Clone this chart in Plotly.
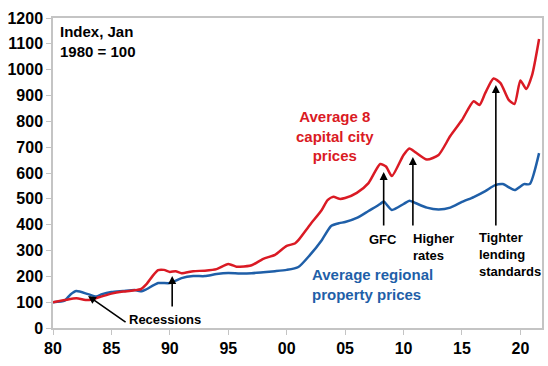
import plotly.graph_objects as go

# Average 8 capital city prices (index, Jan 1980 = 100)
cap_years = [1980, 1981, 1982, 1983, 1984, 1985, 1986, 1987, 1987.5, 1988, 1988.5, 1989, 1989.5,
             1990, 1990.5, 1991, 1992, 1993, 1994, 1995, 1995.7, 1996, 1997, 1998, 1999, 2000,
             2000.7, 2001, 2002, 2003, 2003.5, 2004, 2004.5, 2005, 2006, 2007, 2008, 2008.5,
             2009, 2010, 2010.5, 2011, 2012, 2013, 2014, 2015, 2016, 2016.5, 2017, 2017.7,
             2018.3, 2019, 2019.5, 2020, 2020.5, 2021, 2021.6]
cap_values = [100, 108, 115, 108, 120, 133, 141, 146, 150, 170, 200, 224, 225,
              217, 220, 212, 220, 222, 228, 248, 237, 237, 243, 268, 283, 318,
              327, 340, 400, 457, 495, 508, 500, 503, 523, 561, 635, 625,
              588, 670, 695, 681, 652, 670, 743, 805, 878, 863, 910, 966,
              948, 883, 867, 958, 925, 979, 1119]

# Average regional property prices
reg_years = [1980, 1981, 1981.5, 1982, 1983, 1983.7, 1984.2, 1985, 1986, 1987, 1987.6, 1988,
             1989, 1990, 1991, 1992, 1993, 1994, 1995, 1996, 1997, 1998, 1999, 2000, 2001,
             2002, 2003, 2003.8, 2004.5, 2005, 2006, 2007, 2008, 2008.3, 2009, 2010, 2010.5,
             2011, 2012, 2013, 2014, 2015, 2016, 2017, 2017.8, 2018.5, 2019.5, 2020.3, 2020.8,
             2021.6]
reg_values = [100, 106, 130, 143, 131, 122, 131, 139, 143, 147, 142, 150,
              174, 174, 193, 201, 201, 209, 213, 211, 212, 216, 220, 225, 236,
              283, 340, 395, 406, 410, 426, 453, 480, 490, 457, 480, 493,
              484, 466, 459, 466, 488, 507, 530, 552, 557, 534, 557, 557,
              677]

tick_vals = [1980, 1985, 1990, 1995, 2000, 2005, 2010, 2015, 2020]
tick_text = ["80", "85", "90", "95", "00", "05", "10", "15", "20"]

RED = "#DA1A24"
BLUE = "#1F5FA8"
GREY = "#C4C4C4"
FONT = "Arial, Liberation Sans, sans-serif"

fig = go.Figure()
fig.add_trace(go.Scatter(x=reg_years, y=reg_values, mode="lines",
                         line=dict(color=BLUE, width=2.5, shape="spline", smoothing=0.6),
                         showlegend=False, hoverinfo="skip"))
fig.add_trace(go.Scatter(x=cap_years, y=cap_values, mode="lines",
                         line=dict(color=RED, width=2.5, shape="spline", smoothing=0.6),
                         showlegend=False, hoverinfo="skip"))

annotations = []
# text labels
annotations.append(dict(xref="paper", yref="paper", x=0.01, y=0.99, xanchor="left", yanchor="top",
                        text="<b>Index, Jan<br>1980 = 100</b>", showarrow=False, align="left",
                        font=dict(size=15, color="black", family=FONT)))
annotations.append(dict(x=2004.14, y=745, text="<b>Average 8<br>capital city<br>prices</b>",
                        showarrow=False, align="center", xanchor="center", yanchor="middle",
                        font=dict(size=15, color=RED, family=FONT)))
annotations.append(dict(x=2002.0, y=167, text="<b>Average regional<br>property prices</b>",
                        showarrow=False, align="left", xanchor="left", yanchor="middle",
                        font=dict(size=15, color=BLUE, family=FONT)))
annotations.append(dict(x=2008.25, y=344, text="<b>GFC</b>", showarrow=False,
                        xanchor="center", yanchor="middle", font=dict(size=13, color="black", family=FONT)))
annotations.append(dict(x=2010.65, y=313, text="<b>Higher<br>rates</b>", showarrow=False, align="left",
                        xanchor="left", yanchor="middle", font=dict(size=13, color="black", family=FONT)))
annotations.append(dict(x=2016.3, y=283, text="<b>Tighter<br>lending<br>standards</b>", showarrow=False,
                        align="left", xanchor="left", yanchor="middle",
                        font=dict(size=13, color="black", family=FONT)))
annotations.append(dict(x=1989.6, y=33, text="<b>Recessions</b>", showarrow=False,
                        xanchor="center", yanchor="middle", font=dict(size=13, color="black", family=FONT)))

# arrows (tip at x,y ; tail at ax,ay)
arrows = [
    (1983.0, 124, 1986.34, 19),
    (1990.2, 201, 1990.2, 77),
    (2008.3, 604, 2008.3, 391),
    (2010.8, 662, 2010.8, 391),
    (2017.9, 941, 2017.9, 391),
]
for x, y, ax, ay in arrows:
    annotations.append(dict(x=x, y=y, ax=ax, ay=ay, xref="x", yref="y", axref="x", ayref="y",
                            text="", showarrow=True, arrowhead=2, arrowsize=1, arrowwidth=1.6,
                            arrowcolor="black"))

fig.update_layout(
    width=548, height=366,
    margin=dict(l=53, r=6, t=18, b=38, autoexpand=False),
    paper_bgcolor="white", plot_bgcolor="white",
    font=dict(family=FONT, color="black"),
    annotations=annotations,
    xaxis=dict(range=[1980, 2021.85], tickvals=tick_vals, ticktext=tick_text, automargin=False,
               showgrid=False, zeroline=False, showline=True, linecolor=GREY, linewidth=1.5,
               mirror=True, ticks="outside", ticklen=5, tickcolor=GREY,
               tickfont=dict(size=16, family=FONT, color="black", weight="bold")),
    yaxis=dict(range=[0, 1200], dtick=100, showgrid=False, zeroline=False, showline=True,
               automargin=False,
               linecolor=GREY, linewidth=1.5, mirror=True, ticks="outside", ticklen=5, tickcolor=GREY,
               tickfont=dict(size=16, family=FONT, color="black", weight="bold")),
)

fig.write_html("out.html", config={"displayModeBar": False},
               post_script="document.body.style.margin='0';")
